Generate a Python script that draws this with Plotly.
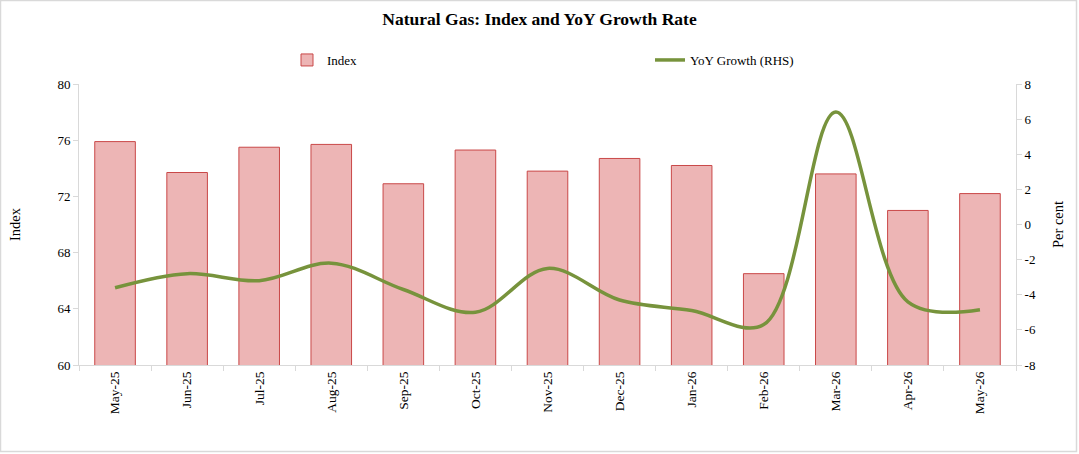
import plotly.graph_objects as go

months = ["May-25", "Jun-25", "Jul-25", "Aug-25", "Sep-25", "Oct-25", "Nov-25",
          "Dec-25", "Jan-26", "Feb-26", "Mar-26", "Apr-26", "May-26"]
index_vals = [75.9, 73.7, 75.5, 75.7, 72.9, 75.3, 73.8, 74.7, 74.2, 66.5, 73.6, 71.0, 72.2]
yoy_vals = [-3.6, -2.8, -3.2, -2.2, -3.7, -5.0, -2.5, -4.3, -4.9, -5.7, 6.4, -4.4, -4.85]
left_ticks = [60, 64, 68, 72, 76, 80]
right_ticks = [-8, -6, -4, -2, 0, 2, 4, 6, 8]
right_tick_text = ["-8", "-6", "-4", "-2", "0", "2", "4", "6", "8"]

W, H = 1079, 454
ML, MR, MT, MB = 79, 63, 84, 89
pw = W - ML - MR
ph = H - MT - MB

FONT = "Liberation Serif, Times New Roman, serif"

fig = go.Figure()
fig.add_trace(go.Bar(
    x=months, y=index_vals, name="Index",
    marker=dict(color="#EDB5B5", line=dict(color="#C94848", width=1)),
    yaxis="y",
))
fig.add_trace(go.Scatter(
    x=months, y=yoy_vals, name="YoY Growth (RHS)", mode="lines",
    line=dict(color="#77933C", width=3.5, shape="spline", smoothing=1.0),
    yaxis="y2",
))

fig.update_layout(
    width=W, height=H,
    margin=dict(l=ML, r=MR, t=MT, b=MB, autoexpand=False),
    paper_bgcolor="white", plot_bgcolor="white",
    font=dict(family=FONT, size=13, color="black"),
    title=dict(text="<b>Natural Gas: Index and YoY Growth Rate</b>",
               x=0.5, xanchor="center", y=1 - 19 / H, yanchor="middle",
               font=dict(family=FONT, size=17.5)),
    bargap=0.437,
    showlegend=True,
    legend=dict(orientation="h", x=(287 - ML) / pw, xanchor="left",
                y=1 + (MT - 60) / ph, yanchor="middle",
                entrywidth=318, entrywidthmode="pixels",
                font=dict(family=FONT, size=13), bgcolor="rgba(0,0,0,0)",
                itemwidth=30),
    xaxis=dict(type="category", tickangle=-90, showline=True, linecolor="#D9D9D9",
               linewidth=1, ticks="outside", tickson="boundaries", tickcolor="#D9D9D9",
               ticklen=5, showgrid=False, automargin=False,
               tickfont=dict(family=FONT, size=13.5)),
    yaxis=dict(range=[60, 80], tickvals=left_ticks, showline=True, linecolor="#D9D9D9",
               ticks="outside", tickcolor="#D9D9D9", ticklen=5, showgrid=False,
               zeroline=False, automargin=False,
               title=dict(text="Index", font=dict(family=FONT, size=14.5), standoff=33),
               tickfont=dict(family=FONT, size=13)),
    yaxis2=dict(range=[-8, 8], tickvals=right_ticks, ticktext=right_tick_text,
                overlaying="y", side="right",
                showline=True, linecolor="#D9D9D9", ticks="outside", tickcolor="#D9D9D9",
                ticklen=5, showgrid=False, zeroline=False, automargin=False,
                title=dict(text="Per cent", font=dict(family=FONT, size=14.5), standoff=17),
                tickfont=dict(family=FONT, size=13)),
)

fig.add_shape(type="rect", xref="paper", yref="paper",
              x0=-(ML - 0.5) / pw, x1=1 + (MR - 2.5) / pw,
              y0=-(MB - 2.5) / ph, y1=1 + (MT - 0.5) / ph,
              line=dict(color="#D9D9D9", width=1.5), fillcolor="rgba(0,0,0,0)", layer="below")

fig.write_html("out.html")
